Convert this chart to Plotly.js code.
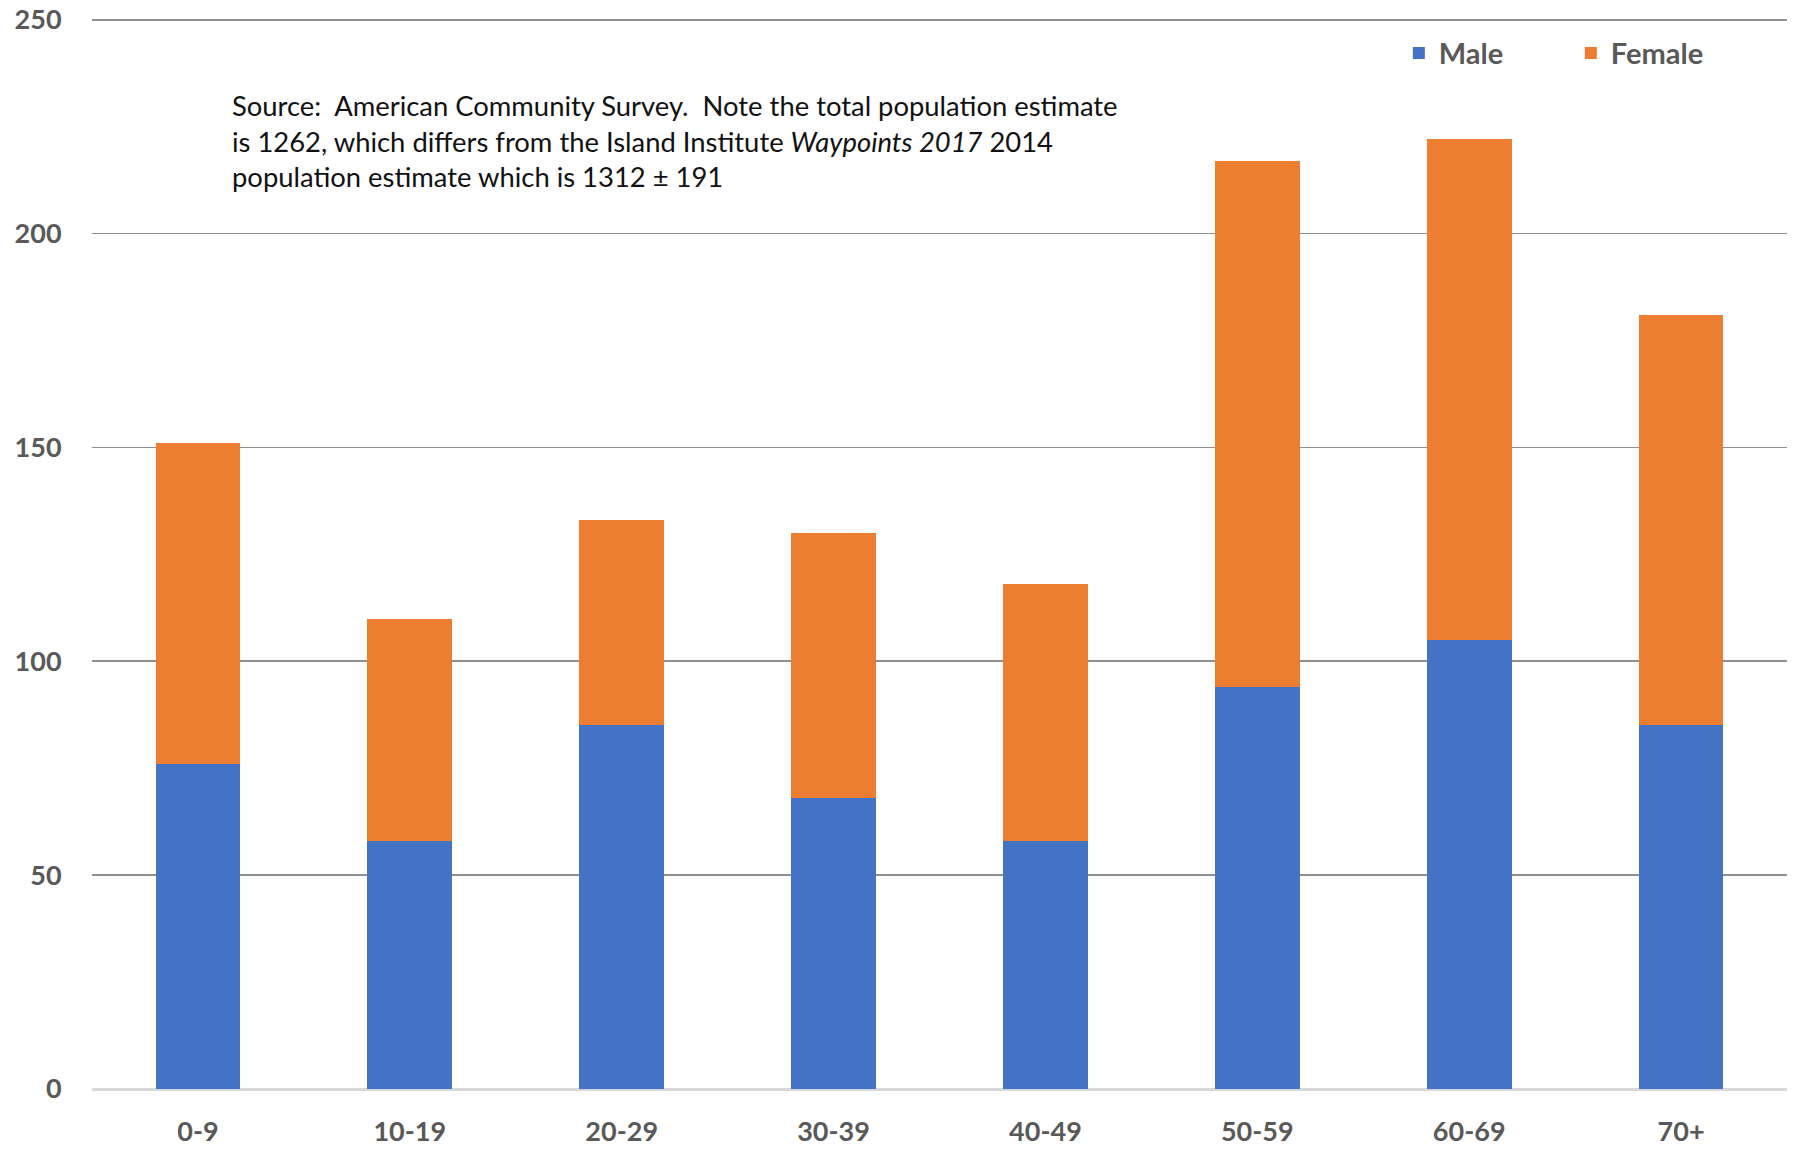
<!DOCTYPE html>
<html>
<head>
<meta charset="utf-8">
<script src="https://cdn.plot.ly/plotly-3.0.1.min.js"></script>
<style>html,body{margin:0;padding:0;background:#fff;}#chart{width:1794px;height:1151px;}</style>
</head>
<body>
<div id="chart"></div>
<script>
const categories = ["0-9","10-19","20-29","30-39","40-49","50-59","60-69","70+"];
const male = [76, 58, 85, 68, 58, 94, 105, 85];
const female = [75, 52, 48, 62, 60, 123, 117, 96];
const yTicks = [0, 50, 100, 150, 200, 250];
const noteText = "Source:  American Community Survey.  Note the total population estimate<br>is 1262, which differs from the Island Institute <i>Waypoints 2017</i> 2014<br>population estimate which is 1312 ± 191";

const traces = [
  {type:'bar', name:'Male', x:categories, y:male, marker:{color:'#4472C4'}},
  {type:'bar', name:'Female', x:categories, y:female, marker:{color:'#ED7D31'}}
];

const tickFont = {family:'Lato, "Open Sans", sans-serif', size:27, color:'#595959', weight:'bold'};

const layout = {
  width:1794, height:1151,
  margin:{l:91.5, r:7, t:18, b:62},
  barmode:'stack', bargap:0.6,
  paper_bgcolor:'#ffffff', plot_bgcolor:'#ffffff',
  showlegend:true,
  legend:{orientation:'h', x:0.771, y:0.991, xanchor:'left', yanchor:'top',
          font:{family:'Lato, "Open Sans", sans-serif', size:29, color:'#595959', weight:'bold'},
          entrywidth:127, entrywidthmode:'pixels', traceorder:'normal', bgcolor:'rgba(0,0,0,0)'},
  xaxis:{type:'category', tickfont:tickFont, ticks:'outside', ticklen:19, tickcolor:'rgba(0,0,0,0)',
         showgrid:false, showline:false, zeroline:false},
  yaxis:{range:[0,250.4], tickvals:yTicks, tickfont:tickFont, ticks:'outside', ticklen:24, tickcolor:'rgba(0,0,0,0)',
         showgrid:true, gridcolor:'#8f8f8f', gridwidth:1.8, zeroline:true, zerolinecolor:'#d9d9d9', zerolinewidth:3,
         showline:false},
  annotations:[{xref:'paper', yref:'paper', x:0.0815, y:0.936, xanchor:'left', yanchor:'top', align:'left',
                showarrow:false, text:noteText,
                font:{family:'Lato, "Open Sans", sans-serif', size:27.4, color:'#111111'}}]
};

Plotly.newPlot('chart', traces, layout, {displayModeBar:false, staticPlot:true});
</script>
</body>
</html>
